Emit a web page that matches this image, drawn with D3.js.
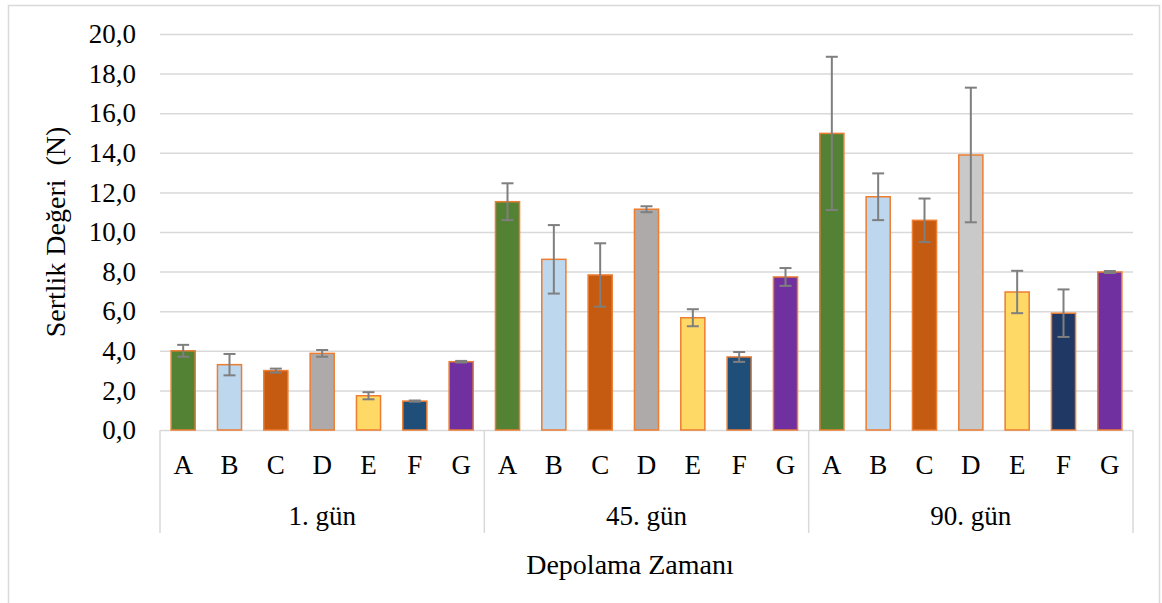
<!DOCTYPE html>
<html>
<head>
<meta charset="utf-8">
<script src="https://cdn.jsdelivr.net/npm/d3@7"></script>
<style>
  body { margin: 0; background: #fff; }
  svg text { font-family: "Liberation Serif", "DejaVu Serif", "Times New Roman", serif !important; fill: #000; }
</style>
</head>
<body>
<script>
var categories = ["A", "B", "C", "D", "E", "F", "G"];
var groups = ["1. gün", "45. gün", "90. gün"];
var yTicks = [0, 2, 4, 6, 8, 10, 12, 14, 16, 18, 20];

// ortalama ve standart sapma
var means1 = [4.0, 3.3, 3.0, 3.87, 1.73, 1.46, 3.45];
var sd1 = [0.3, 0.54, 0.1, 0.17, 0.18, 0.03, 0.04];
var means45 = [11.53, 8.62, 7.83, 11.15, 5.67, 3.69, 7.73];
var sd45 = [0.93, 1.73, 1.6, 0.15, 0.43, 0.25, 0.45];
var means90 = [14.98, 11.78, 10.59, 13.89, 6.97, 5.9, 7.98];
var sd90 = [3.87, 1.18, 1.1, 3.4, 1.07, 1.2, 0.05];

var colors12 = ["#548235", "#bdd7ee", "#c55a11", "#aeaaaa", "#ffd966", "#1f4e79", "#7030a0"];
var colors90 = ["#548235", "#bdd7ee", "#c55a11", "#c9c9c9", "#ffd966", "#203864", "#7030a0"];

var allMeans = [means1, means45, means90];
var allSd = [sd1, sd45, sd90];
var allColors = [colors12, colors12, colors90];

var data = [];
groups.forEach(function(g, i) {
	categories.forEach(function(c, j) {
		data.push({group: g, cat: c, mean: allMeans[i][j], sd: allSd[i][j], color: allColors[i][j]});
	});
});

var width = 1162, height = 603;
var plot = {left: 160, right: 1133, top: 34, bottom: 430};
var serif = "'Liberation Serif', 'DejaVu Serif', serif";

var svg = d3.select("body").append("svg")
	.attr("width", width)
	.attr("height", height)
	.attr("font-family", serif);

// dis cerceve
svg.append("rect")
	.attr("x", 8.5).attr("y", 5.5)
	.attr("width", 1151).attr("height", 620)
	.attr("fill", "none")
	.attr("stroke", "#d9d9d9")
	.attr("stroke-width", 1.5);

var x0 = d3.scaleBand()
	.domain(groups)
	.range([plot.left, plot.right])
	.padding(0);

var x1 = d3.scaleBand()
	.domain(categories)
	.range([0, x0.bandwidth()])
	.paddingInner(0.48)
	.paddingOuter(0.24);

var y = d3.scaleLinear()
	.domain([0, 20])
	.range([plot.bottom, plot.top]);

var fmt = function(d) { return d3.format(".1f")(d).replace(".", ","); };

var yAxis = d3.axisLeft(y)
	.tickValues(yTicks)
	.tickFormat(fmt)
	.tickSize(-(plot.right - plot.left))
	.tickPadding(24);

var gy = svg.append("g")
	.attr("class", "y-axis")
	.attr("transform", "translate(" + plot.left + ",0)")
	.call(yAxis)
	.attr("font-family", serif);
gy.select(".domain").remove();
gy.selectAll(".tick line").attr("stroke", "#d9d9d9").attr("stroke-width", 1.5);
gy.selectAll(".tick text")
	.style("font-size", "27px")
	.style("font-family", serif)
	.attr("fill", "#000");

// gruplar arasi ayirici cizgiler
var bounds = groups.map(function(g) { return x0(g); }).concat([x0(groups[groups.length - 1]) + x0.bandwidth()]);
svg.selectAll(".divider")
	.data(bounds)
	.enter().append("line")
	.attr("class", "divider")
	.attr("x1", function(d) { return d; })
	.attr("x2", function(d) { return d; })
	.attr("y1", plot.bottom)
	.attr("y2", 533)
	.attr("stroke", "#d9d9d9")
	.attr("stroke-width", 1.5);

var bars = svg.selectAll(".bar")
	.data(data)
	.enter().append("rect")
	.attr("class", "bar")
	.attr("x", function(d) { return x0(d.group) + x1(d.cat); })
	.attr("y", function(d) { return y(d.mean); })
	.attr("width", x1.bandwidth())
	.attr("height", function(d) { return y(0) - y(d.mean); })
	.attr("fill", function(d) { return d.color; })
	.attr("stroke", "#ed7d31")
	.attr("stroke-width", 1.5);

// hata cubuklari
var cap = 6;
var cx = function(d) { return x0(d.group) + x1(d.cat) + x1.bandwidth() / 2; };
var err = svg.selectAll(".err")
	.data(data)
	.enter().append("g")
	.attr("class", "err")
	.attr("stroke", "#7f7f7f")
	.attr("stroke-width", 2);

err.append("line")
	.attr("x1", cx)
	.attr("x2", cx)
	.attr("y1", function(d) { return y(d.mean + d.sd); })
	.attr("y2", function(d) { return y(d.mean - d.sd); });

err.append("line")
	.attr("x1", function(d) { return cx(d) - cap; })
	.attr("x2", function(d) { return cx(d) + cap; })
	.attr("y1", function(d) { return y(d.mean + d.sd); })
	.attr("y2", function(d) { return y(d.mean + d.sd); });

err.append("line")
	.attr("x1", function(d) { return cx(d) - cap; })
	.attr("x2", function(d) { return cx(d) + cap; })
	.attr("y1", function(d) { return y(d.mean - d.sd); })
	.attr("y2", function(d) { return y(d.mean - d.sd); });

// kategori etiketleri
groups.forEach(function(g) {
	var gx = svg.append("g")
		.attr("class", "x-axis")
		.attr("transform", "translate(" + x0(g) + "," + plot.bottom + ")")
		.call(d3.axisBottom(x1).tickSize(0).tickPadding(25))
		.attr("font-family", serif);
	gx.select(".domain").remove();
	gx.selectAll(".tick text")
		.style("font-size", "27px")
		.style("font-family", serif)
		.attr("fill", "#000");
});

svg.selectAll(".group-label")
	.data(groups)
	.enter().append("text")
	.attr("class", "group-label")
	.attr("x", function(d) { return x0(d) + x0.bandwidth() / 2; })
	.attr("y", 525)
	.attr("text-anchor", "middle")
	.style("font-size", "27px")
	.style("font-family", serif)
	.text(function(d) { return d; });

svg.append("text")
	.attr("x", 630)
	.attr("y", 574)
	.attr("text-anchor", "middle")
	.style("font-size", "28px")
	.style("font-family", serif)
	.text("Depolama Zamanı");

svg.append("text")
	.attr("transform", "translate(65,232) rotate(-90)")
	.attr("text-anchor", "middle")
	.style("font-size", "28px")
	.style("font-family", serif)
	.style("white-space", "pre")
	.text("Sertlik Değeri  (N)");
</script>
</body>
</html>
